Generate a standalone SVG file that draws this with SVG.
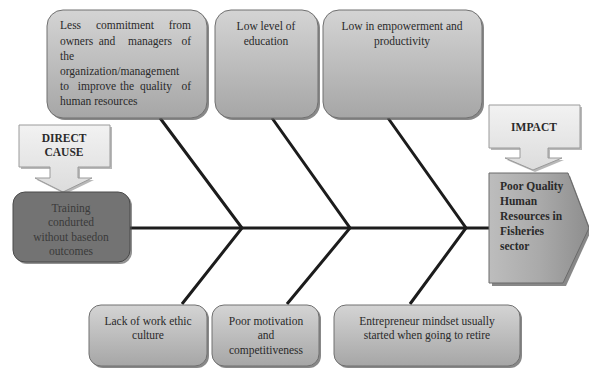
<svg xmlns="http://www.w3.org/2000/svg" width="589" height="368" viewBox="0 0 589 368">
<defs>
<linearGradient id="gb" x1="0" y1="0" x2="0" y2="1">
<stop offset="0" stop-color="#d4d4d4"/><stop offset="1" stop-color="#a6a6a6"/>
</linearGradient>
<linearGradient id="ge" x1="0" y1="0" x2="1" y2="0">
<stop offset="0" stop-color="#bdbdbd"/><stop offset="0.5" stop-color="#aaaaaa"/><stop offset="1" stop-color="#8e8e8e"/>
</linearGradient>
<linearGradient id="gc" x1="0" y1="0" x2="0" y2="1">
<stop offset="0" stop-color="#f2f2f2"/><stop offset="1" stop-color="#dcdcdc"/>
</linearGradient>
</defs>
<style>
.box{fill:url(#gb);stroke:#707070;stroke-width:1}
.sh{fill:#555;opacity:0.7}
.csh{fill:#888;opacity:0.6}
.t{font-family:"Liberation Serif","DejaVu Serif",serif;font-size:11.5px;fill:#2a2a2a}
.b{font-weight:bold}
.c{text-anchor:middle}
.e{text-anchor:end}
.bone{stroke:#1c1c1c;stroke-width:3;fill:none;stroke-linecap:butt}
.call{fill:url(#gc);stroke:#9a9a9a;stroke-width:1}
.dk{fill:#3a3a3a}
</style>
<rect width="589" height="368" fill="#fff"/>
<g id="connectors">
<line class="bone" x1="130" y1="228" x2="489" y2="228"/>
<polyline class="bone" points="160,118 242,228 182,304"/>
<polyline class="bone" points="272,118 350,228 287,304"/>
<polyline class="bone" points="388,118 466,228 410,304"/>
</g>
<g id="cause1">
<rect class="sh" x="49" y="12" width="160" height="108" rx="16"/>
<rect class="box" x="47" y="10" width="160" height="108" rx="16"/>
<text class="t" y="29"><tspan x="60">Less</tspan><tspan x="125" class="c">commitment</tspan><tspan x="191" class="e">from</tspan></text>
<text class="t" y="45"><tspan x="60">owners</tspan><tspan x="107" class="c">and</tspan><tspan x="150" class="c">managers</tspan><tspan x="191" class="e">of</tspan></text>
<text class="t" x="60" y="60">the</text>
<text class="t" x="60" y="75">organization/management</text>
<text class="t" y="90"><tspan x="60">to</tspan><tspan x="97" class="c">improve</tspan><tspan x="127" class="c">the</tspan><tspan x="156" class="c">quality</tspan><tspan x="191" class="e">of</tspan></text>
<text class="t" x="60" y="105">human resources</text>
</g>
<g id="cause2">
<rect class="sh" x="217" y="12" width="103" height="108" rx="16"/>
<rect class="box" x="215" y="10" width="103" height="108" rx="16"/>
<text class="t c" x="266" y="30">Low level of</text>
<text class="t c" x="266" y="45">education</text>
</g>
<g id="cause3">
<rect class="sh" x="325" y="12" width="159" height="108" rx="16"/>
<rect class="box" x="323" y="10" width="159" height="108" rx="16"/>
<text class="t c" x="402" y="30">Low in empowerment and</text>
<text class="t c" x="402" y="45">productivity</text>
</g>
<g id="cause4">
<rect class="sh" x="91" y="307" width="118" height="61" rx="12"/>
<rect class="box" x="89" y="305" width="118" height="61" rx="12"/>
<text class="t c" x="148" y="325">Lack of work ethic</text>
<text class="t c" x="148" y="339">culture</text>
</g>
<g id="cause5">
<rect class="sh" x="214" y="307" width="107" height="61" rx="12"/>
<rect class="box" x="212" y="305" width="107" height="61" rx="12"/>
<text class="t c" x="266" y="325">Poor motivation</text>
<text class="t c" x="266" y="339">and</text>
<text class="t c" x="266" y="354">competitiveness</text>
</g>
<g id="cause6">
<rect class="sh" x="336" y="307" width="186" height="61" rx="12"/>
<rect class="box" x="334" y="305" width="186" height="61" rx="12"/>
<text class="t c" x="427" y="325">Entrepreneur mindset usually</text>
<text class="t c" x="427" y="339">started when going to retire</text>
</g>
<g id="direct-cause">
<path class="csh" d="M21,127 H112 V169 H80 V180 H94 L65,194 L37,180 H52 V169 H21 Z"/>
<path class="call" d="M19,125 H110 V167 H78 V178 H92 L63,192 L35,178 H50 V167 H19 Z"/>
<text class="t b c" x="64" y="142">DIRECT</text>
<text class="t b c" x="64" y="156">CAUSE</text>
</g>
<g id="training">
<rect x="15" y="194" width="117" height="70" rx="12" fill="#4a4a4a" opacity="0.6"/>
<rect x="13" y="192" width="117" height="70" rx="12" fill="#737373" stroke="#4a4a4a" stroke-width="1"/>
<text class="t c dk" x="71" y="212">Training</text>
<text class="t c dk" x="71" y="226">condurted</text>
<text class="t c dk" x="71" y="241">without basedon</text>
<text class="t c dk" x="71" y="255">outcomes</text>
</g>
<g id="impact">
<path class="csh" d="M491,107 H582 V150 H550 V160 H564 L535,172 L507,160 H522 V150 H491 Z"/>
<path class="call" d="M489,105 H580 V148 H548 V158 H562 L533,170 L505,158 H520 V148 H489 Z"/>
<text class="t b c" x="534" y="131">IMPACT</text>
</g>
<g id="effect">
<path d="M492,176 H570 L591,231 L566,286 H492 Z" fill="#555" opacity="0.7"/>
<path d="M489,173 H568 L589,228 L563,283 H489 Z" fill="url(#ge)" stroke="#6a6a6a" stroke-width="1"/>
<text class="t b" x="500" y="190">Poor Quality</text>
<text class="t b" x="500" y="205">Human</text>
<text class="t b" x="500" y="220">Resources in</text>
<text class="t b" x="500" y="235">Fisheries</text>
<text class="t b" x="500" y="250">sector</text>
</g>
</svg>
